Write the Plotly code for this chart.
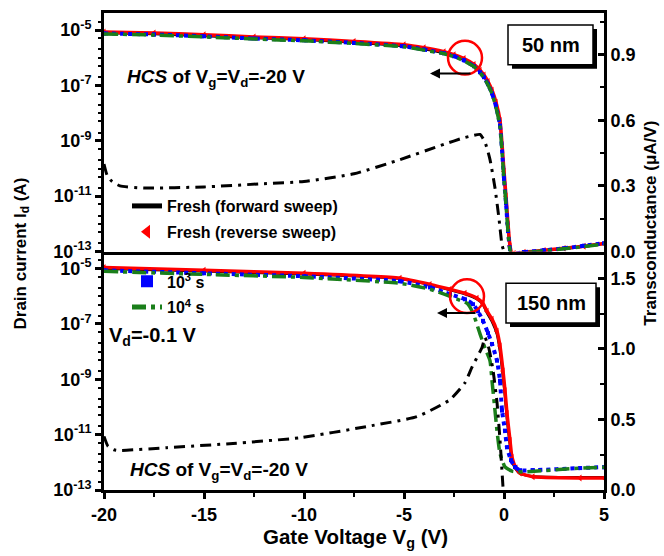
import plotly.graph_objects as go

# ---------------- data ----------------
# Top panel (50 nm) drain current, shared gate-voltage grid
vg_top = [-20, -17.5, -15, -12.5, -10, -7.5, -5, -4, -3, -2.5, -2, -1.5, -1.2, -1.0, -0.8,
          -0.6, -0.4, -0.2, 0, 0.1, 0.2, 0.3, 0.4, 0.5, 1, 2, 3, 4, 5]
id_top_fresh_fwd = [7.9e-6, 7.3e-6, 6.2e-6, 5.2e-6, 4.5e-6, 3.6e-6, 2.7e-6, 2.1e-6, 1.5e-6, 1.2e-6,
                    8.5e-7, 5.2e-7, 3.2e-7, 2.1e-7, 1.2e-7, 5.6e-8, 1.9e-8, 4.0e-9, 4.9e-11, 6.3e-12,
                    6.2e-13, 1.3e-13, 7e-14, 8e-14, 9e-14, 1.05e-13, 1.25e-13, 1.5e-13, 1.9e-13]
id_top_fresh_rev = [8.6e-6, 7.9e-6, 6.8e-6, 5.7e-6, 4.9e-6, 3.9e-6, 2.95e-6, 2.3e-6, 1.65e-6, 1.3e-6,
                    9.4e-7, 5.8e-7, 3.6e-7, 2.4e-7, 1.4e-7, 6.8e-8, 2.5e-8, 5.5e-9, 8e-11, 1.0e-11,
                    1.0e-12, 1.6e-13, 8e-14, 8.5e-14, 9.5e-14, 1.1e-13, 1.3e-13, 1.55e-13, 1.95e-13]
id_top_1e3 = [7.6e-6, 7.0e-6, 6.0e-6, 5.0e-6, 4.3e-6, 3.45e-6, 2.6e-6, 2.0e-6, 1.45e-6, 1.15e-6,
              8.1e-7, 5.0e-7, 3.0e-7, 2.0e-7, 1.1e-7, 5.2e-8, 1.75e-8, 3.6e-9, 4.2e-11, 5.5e-12,
              5.5e-13, 1.2e-13, 7e-14, 8e-14, 9.5e-14, 1.1e-13, 1.3e-13, 1.6e-13, 2.0e-13]
id_top_1e4 = [7.3e-6, 6.7e-6, 5.7e-6, 4.8e-6, 4.1e-6, 3.3e-6, 2.5e-6, 1.9e-6, 1.4e-6, 1.1e-6,
              7.8e-7, 4.8e-7, 2.9e-7, 1.9e-7, 1.05e-7, 5.0e-8, 1.6e-8, 3.3e-9, 3.8e-11, 5e-12,
              5e-13, 1.15e-13, 7e-14, 8e-14, 9e-14, 1.05e-13, 1.25e-13, 1.5e-13, 1.85e-13]

# Top panel transconductance (fresh)
vg_gm_top = [-20, -19.85, -19.6, -19.2, -18, -15, -12, -10, -7.5, -5.2, -3, -2, -1.55, -1.2,
             -0.95, -0.7, -0.45, -0.25, -0.1, 0]
gm_top = [0.40, 0.35, 0.32, 0.30, 0.29, 0.295, 0.31, 0.32, 0.355, 0.42, 0.49, 0.52, 0.53, 0.535,
          0.50, 0.42, 0.29, 0.15, 0.03, 0.0]

# Bottom panel (150 nm) drain current
vg_bot_fwd = [-20, -15, -10, -5.2, -3.7, -2.7, -1.95, -1.35, -1.05, -0.85, -0.6, -0.35, -0.2, -0.05,
              0.05, 0.15, 0.3, 0.4, 0.6, 0.8, 1.45, 3.8, 5]
id_bot_fresh_fwd = [1.0e-5, 8.0e-6, 6.3e-6, 4.3e-6, 2.6e-6, 1.7e-6, 1.2e-6, 7.8e-7, 5.0e-7, 2.5e-7,
                    1.2e-7, 4.2e-8, 1.0e-8, 1.2e-9, 2.4e-10, 3.5e-11, 4e-12, 1.1e-12, 5.5e-13, 3.9e-13,
                    3.1e-13, 2.9e-13, 2.9e-13]
vg_bot_rev = [-20, -15, -10, -5.2, -3.7, -2.7, -1.95, -1.35, -1.05, -0.85, -0.6, -0.35, -0.2, -0.05,
              0.05, 0.15, 0.3, 0.4, 0.6, 0.8, 1.45, 3.8, 5]
id_bot_fresh_rev = [1.1e-5, 8.7e-6, 6.8e-6, 4.5e-6, 2.7e-6, 1.8e-6, 1.3e-6, 8.5e-7, 5.6e-7, 2.9e-7,
                    1.5e-7, 5.5e-8, 1.6e-8, 2.0e-9, 3.9e-10, 5.8e-11, 6.2e-12, 1.5e-12, 6.2e-13, 4.1e-13,
                    3.0e-13, 2.7e-13, 2.7e-13]
vg_bot_1e3 = [-20, -15, -10, -5.2, -3.7, -2.7, -1.95, -1.55, -1.3, -1.05, -0.8, -0.6, -0.35, -0.2,
              -0.1, 0.05, 0.15, 0.35, 0.55, 0.8, 1.45, 3.8, 5]
id_bot_1e3 = [8.7e-6, 6.8e-6, 5.3e-6, 3.5e-6, 2.1e-6, 1.2e-6, 7.8e-7, 5.2e-7, 2.9e-7, 1.3e-7,
              4.7e-8, 1.9e-8, 4.7e-9, 8.9e-10, 7.4e-11, 1.4e-11, 3.5e-12, 1.2e-12, 6.8e-13, 5.2e-13,
              5.2e-13, 6.2e-13, 6.7e-13]
vg_bot_1e4 = [-20, -15, -10, -5.2, -3.7, -2.7, -2.2, -1.85, -1.55, -1.2, -0.95, -0.7, -0.6, -0.45,
              -0.35, -0.2, 0.05, 0.4, 0.95, 3.8, 5]
id_bot_1e4 = [8.0e-6, 6.2e-6, 4.8e-6, 2.95e-6, 1.8e-6, 1.0e-6, 7.2e-7, 5.6e-7, 2.5e-7, 4.4e-8,
              1.35e-8, 4.7e-9, 8.9e-10, 7.4e-11, 1.4e-11, 2.1e-12, 6.8e-13, 4.8e-13, 4.5e-13, 6.2e-13,
              6.7e-13]

# Bottom panel transconductance (fresh)
vg_gm_bot = [-20, -19.8, -19.5, -19.2, -16.85, -13.55, -10.2, -6.85, -4.35, -2.7, -1.95, -1.6,
             -1.1, -0.95, -0.75, -0.55, -0.35, -0.2, -0.05]
gm_bot = [0.38, 0.31, 0.285, 0.28, 0.30, 0.33, 0.37, 0.45, 0.52, 0.64, 0.76, 0.87, 1.01, 1.08,
          1.0, 0.85, 0.62, 0.355, 0.02]

# Tick labels
x_tickvals = [-20, -15, -10, -5, 0, 5]
x_ticktext = ["-20", "-15", "-10", "-5", "0", "5"]
log_tickvals = [1e-13, 1e-11, 1e-9, 1e-7, 1e-5]
log_ticktext = ["10<sup>-13</sup>", "10<sup>-11</sup>", "10<sup>-9</sup>", "10<sup>-7</sup>", "10<sup>-5</sup>"]
gm_top_tickvals = [0.0, 0.3, 0.6, 0.9]
gm_top_ticktext = ["0.0", "0.3", "0.6", "0.9"]
gm_bot_tickvals = [0.0, 0.5, 1.0, 1.5]
gm_bot_ticktext = ["0.0", "0.5", "1.0", "1.5"]

# ---------------- style ----------------
FONT = "Liberation Sans, Arial, sans-serif"
BLACK = "#000000"
RED = "#ff0000"
BLUE = "#0000ff"
GREEN = "#1a7f1a"
GM_DASH = "11px,6px,3px,6px"
GREEN_DASH = "14px,5px,4px,5px"
SPL = dict(shape="spline", smoothing=0.5)

fig = go.Figure()


def add_panel(xa, ya, ya2, vg_f, idf, vg_r, idr, vg_3, id3, vg_4, id4, vg_gm, gm, legend, showleg_fresh, showleg_aged):
    fig.add_trace(go.Scatter(x=vg_f, y=idf, mode="lines", xaxis=xa, yaxis=ya,
                             line=dict(color=BLACK, width=2.5, **SPL),
                             name="Fresh (forward sweep)", legend=legend, legendgroup="a",
                             showlegend=showleg_fresh))
    fig.add_trace(go.Scatter(x=vg_r, y=idr, mode="lines", xaxis=xa, yaxis=ya,
                             line=dict(color=RED, width=3.5, **SPL), showlegend=False, hoverinfo="skip"))
    fig.add_trace(go.Scatter(x=vg_r, y=idr, mode="markers", xaxis=xa, yaxis=ya,
                             marker=dict(symbol="triangle-left", size=6, color=RED),
                             name="Fresh (reverse sweep)", legend=legend, legendgroup="b",
                             showlegend=showleg_fresh))
    fig.add_trace(go.Scatter(x=vg_3, y=id3, mode="lines", xaxis=xa, yaxis=ya,
                             line=dict(color=BLUE, width=4, dash="dot", **SPL), showlegend=False,
                             hoverinfo="skip"))
    fig.add_trace(go.Scatter(x=vg_3, y=id3, mode="markers", xaxis=xa, yaxis=ya,
                             marker=dict(symbol="square", size=4, color=BLUE),
                             name="10<sup>3</sup> s", legend=legend, legendgroup="c",
                             showlegend=showleg_aged))
    fig.add_trace(go.Scatter(x=vg_4, y=id4, mode="lines", xaxis=xa, yaxis=ya,
                             line=dict(color=GREEN, width=3.5, dash=GREEN_DASH, **SPL),
                             name="10<sup>4</sup> s", legend=legend, legendgroup="d",
                             showlegend=showleg_aged))
    fig.add_trace(go.Scatter(x=vg_gm, y=gm, mode="lines", xaxis=xa, yaxis=ya2,
                             line=dict(color=BLACK, width=3, dash=GM_DASH, **SPL), showlegend=False))


add_panel("x2", "y", "y2", vg_top, id_top_fresh_fwd, vg_top, id_top_fresh_rev, vg_top, id_top_1e3,
          vg_top, id_top_1e4, vg_gm_top, gm_top, "legend", True, False)
add_panel("x", "y3", "y4", vg_bot_fwd, id_bot_fresh_fwd, vg_bot_rev, id_bot_fresh_rev, vg_bot_1e3,
          id_bot_1e3, vg_bot_1e4, id_bot_1e4, vg_gm_bot, gm_bot, "legend2", False, True)

tickfont = dict(family=FONT, size=18, color=BLACK, weight="bold")
axline = dict(showline=True, linewidth=3, linecolor=BLACK, showgrid=False, zeroline=False)
legfont = dict(family=FONT, size=16, color=BLACK, weight="bold")

fig.update_layout(
    width=664, height=556,
    margin=dict(l=104, r=60, t=10, b=66),
    paper_bgcolor="white", plot_bgcolor="white",
    font=dict(family=FONT, size=17, color=BLACK, weight="bold"),
    xaxis=dict(domain=[0, 1], anchor="y3", range=[-20, 5], tickmode="array", tickvals=x_tickvals,
               ticktext=x_ticktext, ticks="outside", ticklen=6, tickwidth=2.5, tickcolor=BLACK,
               minor=dict(ticks="outside", dtick=2.5, tick0=0, ticklen=4, tickwidth=2, tickcolor=BLACK),
               tickfont=tickfont, **axline),
    xaxis2=dict(domain=[0, 1], anchor="y", matches="x", showticklabels=False, ticks="", mirror=True,
                **axline),
    yaxis=dict(domain=[0.5, 1], anchor="x2", type="log", range=[-13, -4.38], tickmode="array",
               tickvals=log_tickvals, ticktext=log_ticktext, ticks="outside", ticklen=6, tickwidth=2.5,
               tickcolor=BLACK, minor=dict(ticks="outside", dtick="D2", ticklen=3, tickwidth=2, tickcolor=BLACK),
               tickfont=tickfont, **axline),
    yaxis2=dict(overlaying="y", anchor="x2", side="right", range=[0, 1.09], tickmode="array",
                tickvals=gm_top_tickvals, ticktext=gm_top_ticktext, ticks="inside", ticklen=6, tickwidth=2.5,
                tickcolor=BLACK, minor=dict(ticks="inside", dtick=0.15, tick0=0, ticklen=4, tickwidth=2, tickcolor=BLACK),
                tickfont=tickfont, **axline),
    yaxis3=dict(domain=[0, 0.5], anchor="x", type="log", range=[-13, -4.38], tickmode="array",
                tickvals=log_tickvals, ticktext=log_ticktext, ticks="outside", ticklen=6, tickwidth=2.5,
                tickcolor=BLACK, minor=dict(ticks="outside", dtick="D2", ticklen=3, tickwidth=2, tickcolor=BLACK),
                tickfont=tickfont, **axline),
    yaxis4=dict(overlaying="y3", anchor="x", side="right", range=[0, 1.69], tickmode="array",
                tickvals=gm_bot_tickvals, ticktext=gm_bot_ticktext, ticks="inside", ticklen=6, tickwidth=2.5,
                tickcolor=BLACK, minor=dict(ticks="inside", dtick=0.25, tick0=0, ticklen=4, tickwidth=2, tickcolor=BLACK),
                tickfont=tickfont, **axline),
    legend=dict(x=0.046, y=0.631, xanchor="left", yanchor="top", bgcolor="rgba(0,0,0,0)",
                font=legfont, itemsizing="constant", traceorder="grouped", tracegroupgap=2, itemwidth=30),
    legend2=dict(x=0.046, y=0.473, xanchor="left", yanchor="top", bgcolor="rgba(0,0,0,0)",
                 font=legfont, itemsizing="constant", traceorder="grouped", tracegroupgap=2, itemwidth=30),
)


def px(xp):
    return (xp - 104) / 500.0


def py(yp):
    return (490 - yp) / 480.0


shapes = []
# boxes with shadow
for (x0, y0, x1, y1) in [(508, 22, 593, 62), (506, 282, 596, 322)]:
    shapes.append(dict(type="rect", xref="paper", yref="paper", x0=px(x0 + 4), x1=px(x1 + 4),
                       y0=py(y1 + 4), y1=py(y0 + 4), fillcolor=BLACK, line=dict(width=0)))
    shapes.append(dict(type="rect", xref="paper", yref="paper", x0=px(x0), x1=px(x1),
                       y0=py(y1), y1=py(y0), fillcolor="white", line=dict(color=BLACK, width=1.5)))
# red circles
for (cx, cy) in [(465, 55), (467, 295)]:
    shapes.append(dict(type="circle", xref="paper", yref="paper", x0=px(cx - 17), x1=px(cx + 17),
                       y0=py(cy + 17), y1=py(cy - 17), line=dict(color=RED, width=2.5)))
fig.update_layout(shapes=shapes)

C = dict(xref="paper", yref="paper", showarrow=False, xanchor="center", yanchor="middle")
L = dict(xref="paper", yref="paper", showarrow=False, xanchor="left", yanchor="middle")
ann = []
ann.append(dict(text="50 nm", x=px(550.5), y=py(42), font=dict(size=20), **C))
ann.append(dict(text="150 nm", x=px(551), y=py(302), font=dict(size=20), **C))
ann.append(dict(text="<i>HCS</i> of V<sub>g</sub>=V<sub>d</sub>=-20 V", x=px(125), y=py(75),
                font=dict(size=19), **L))
ann.append(dict(text="<i>HCS</i> of V<sub>g</sub>=V<sub>d</sub>=-20 V", x=px(128), y=py(471),
                font=dict(size=19), **L))
ann.append(dict(text="V<sub>d</sub>=-0.1 V", x=px(107), y=py(336), font=dict(size=20), **L))
# arrows
for (hx, hy, tail) in [(430, 71, 42), (437, 312, 40)]:
    ann.append(dict(text="", x=px(hx), y=py(hy), xref="paper", yref="paper", showarrow=True,
                    ax=tail, ay=0, arrowhead=2, arrowsize=1, arrowwidth=2, arrowcolor=BLACK))
# axis titles
ann.append(dict(text="Drain current I<sub>d</sub> (A)", x=px(22), y=py(252), textangle=-90,
                font=dict(size=17), **C))
ann.append(dict(text="Transconductance (μA/V)", x=px(651), y=py(222), textangle=-90,
                font=dict(size=17), **C))
ann.append(dict(text="Gate Voltage V<sub>g</sub> (V)", x=px(355), y=py(538), font=dict(size=20.5), **C))
fig.update_layout(annotations=ann)

fig.write_html("out.html", config={"displayModeBar": False},
               post_script="document.body.style.margin='0';document.body.style.overflow='hidden';")
